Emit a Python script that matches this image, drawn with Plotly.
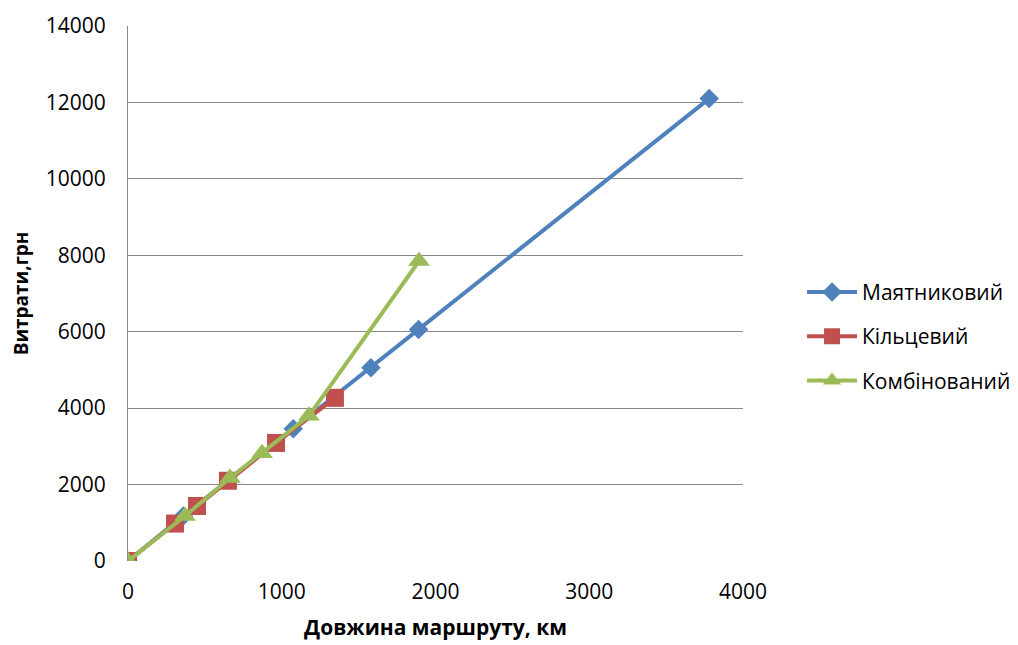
import plotly.graph_objects as go

# Data
x_mayat = [0, 360, 1075, 1580, 1890, 3780]
y_mayat = [0, 1180, 3460, 5060, 6060, 12100]

x_kilts = [0, 306, 449, 650, 963, 1346]
y_kilts = [0, 980, 1440, 2100, 3090, 4270]

x_komb = [0, 371, 663, 872, 1177, 1893]
y_komb = [0, 1180, 2170, 2820, 3800, 7850]

names = ["Маятниковий", "Кільцевий", "Комбінований"]
colors = ["#4F81BD", "#C0504D", "#9BBB59"]
symbols = ["diamond", "square", "triangle-up"]
sizes = [15, 18, 19]

fig = go.Figure()
for i, (xs, ys, n, c, s, sz) in enumerate(zip([x_mayat, x_kilts, x_komb], [y_mayat, y_kilts, y_komb],
                                              names, colors, symbols, sizes)):
    fig.add_trace(go.Scatter(x=xs, y=ys, name=n, mode="lines+markers", legendgroup=f"g{i}",
                             line=dict(color=c, width=4),
                             marker=dict(symbol=s, size=sz, color=c)))

font_family = "Open Sans, Liberation Sans, sans-serif"
fig.update_layout(
    width=1010, height=637,
    margin=dict(l=120, r=275, t=18, b=84, autoexpand=False),
    paper_bgcolor="white", plot_bgcolor="white",
    font=dict(family=font_family, size=21, color="black"),
    showlegend=True,
    legend=dict(x=1.096, y=0.42, xanchor="left", yanchor="middle",
                font=dict(size=21), tracegroupgap=14, itemwidth=50),
    xaxis=dict(range=[0, 4000], tickvals=[0, 1000, 2000, 3000, 4000],
               ticktext=["0", "1000", "2000", "3000", "4000"],
               showgrid=False, zeroline=False, showline=False, automargin=False,
               ticks="", ticklabelstandoff=16,
               title=dict(text="<b>Довжина маршруту, км</b>", font=dict(size=21), standoff=16)),
    yaxis=dict(range=[0, 14000], tickvals=list(range(0, 14001, 2000)),
               ticktext=[str(v) for v in range(0, 14001, 2000)],
               showgrid=True, gridcolor="#888888", gridwidth=1, zeroline=False,
               showline=True, linecolor="#888888", linewidth=1, automargin=False,
               ticks="", ticklabelstandoff=17,
               title=dict(text="<b>Витрати,грн</b>", font=dict(size=19), standoff=18)),
)

fig.write_html("out.html")
